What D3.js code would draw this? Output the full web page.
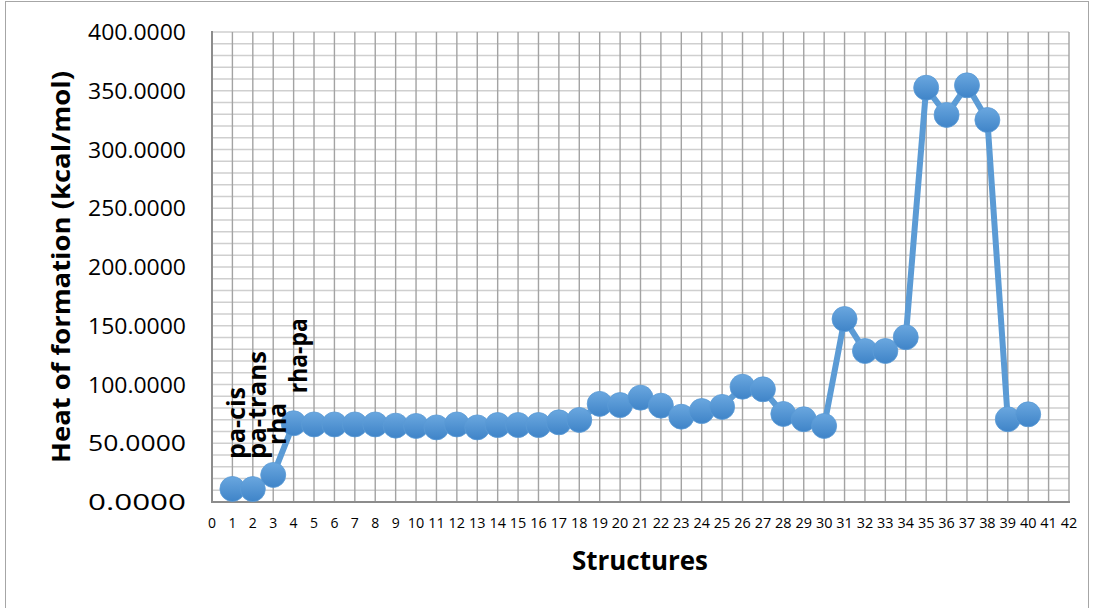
<!DOCTYPE html>
<html>
<head>
<meta charset="utf-8">
<script src="https://cdn.jsdelivr.net/npm/d3@7"></script>
<style>
  html, body { margin: 0; padding: 0; background: #fff; }
  svg { display: block; }
  text { font-family: "Open Sans", Lato, sans-serif; fill: #000; }
</style>
</head>
<body>
<svg id="chart" width="1094" height="608"></svg>
<script>
// ---- data ----
const structures = d3.range(1, 41);
const heatValues = [
  11.1, 11.0, 23.0, 67.0, 66.0, 66.0, 66.0, 66.0, 65.0, 64.7,
  63.5, 66.0, 63.5, 65.5, 65.5, 65.5, 67.8, 69.8, 83.5, 82.5,
  88.8, 82.0, 72.6, 77.4, 80.9, 98.1, 95.9, 74.9, 70.4, 64.7,
  155.7, 128.5, 128.5, 140.2, 352.6, 329.4, 354.6, 325.1, 70.4, 74.6
];
const pointLabels = ["pa-cis", "pa-trans", "rha", "rha-pa"];
const xTicks = d3.range(0, 43);
const yTicks = d3.range(0, 401, 50);
const yMinorTicks = d3.range(0, 401, 10);
const yTitle = "Heat of formation (kcal/mol)";
const xTitle = "Structures";

// ---- layout ----
const svg = d3.select("#chart");
const x = d3.scaleLinear().domain([0, 42]).range([212, 1069]);
const y = d3.scaleLinear().domain([0, 400]).range([502, 32]);

// outer border
svg.append("rect").attr("x", 5.5).attr("y", 1.5).attr("width", 1083).attr("height", 620)
  .attr("fill", "#fff").attr("stroke", "#a6a6a6").attr("stroke-width", 1);

const defs = svg.append("defs");
const grad = defs.append("linearGradient").attr("id", "mk").attr("x1", 0).attr("y1", 0).attr("x2", 0).attr("y2", 1);
grad.append("stop").attr("offset", "0%").attr("stop-color", "#6aa7df");
grad.append("stop").attr("offset", "100%").attr("stop-color", "#3f84c8");

// horizontal minor gridlines
svg.append("g").selectAll("line").data(yMinorTicks).join("line")
  .attr("x1", x(0)).attr("x2", x(42))
  .attr("y1", d => y(d)).attr("y2", d => y(d))
  .attr("stroke", "#cfcfcf").attr("stroke-width", 1.6);

// vertical gridlines
svg.append("g").selectAll("line").data(xTicks.filter(d => d > 0)).join("line")
  .attr("x1", d => x(d)).attr("x2", d => x(d))
  .attr("y1", y(400)).attr("y2", y(0))
  .attr("stroke", "#a3a3a3").attr("stroke-width", 1.4);

// axes lines
svg.append("line").attr("x1", x(0)).attr("x2", x(0)).attr("y1", y(400) - 1).attr("y2", y(0) + 1)
  .attr("stroke", "#8c8c8c").attr("stroke-width", 2);
svg.append("line").attr("x1", x(0) - 1).attr("x2", x(42) + 1).attr("y1", y(0)).attr("y2", y(0))
  .attr("stroke", "#8c8c8c").attr("stroke-width", 2);

// y tick labels
svg.append("g").selectAll("text").data(yTicks).join("text")
  .attr("x", 186).attr("y", d => y(d))
  .attr("text-anchor", "end").attr("dominant-baseline", "central")
  .attr("font-size", 21)
  .attr("textLength", 98).attr("lengthAdjust", "spacingAndGlyphs")
  .text(d => d3.format(".4f")(d));

// x tick labels
svg.append("g").selectAll("text").data(xTicks).join("text")
  .attr("x", d => x(d)).attr("y", 522)
  .attr("text-anchor", "middle").attr("dominant-baseline", "central")
  .attr("font-size", 14.5)
  .attr("textLength", d => d < 10 ? 8 : 16.5).attr("lengthAdjust", "spacingAndGlyphs")
  .text(d => d);

// axis titles
svg.append("text")
  .attr("transform", `translate(60,${(y(0) + y(400)) / 2}) rotate(-90)`)
  .attr("text-anchor", "middle").attr("dominant-baseline", "central")
  .attr("font-size", 25).attr("font-weight", "bold")
  .attr("textLength", 392).attr("lengthAdjust", "spacingAndGlyphs")
  .text(yTitle);

svg.append("text")
  .attr("x", 640).attr("y", 560)
  .attr("text-anchor", "middle").attr("dominant-baseline", "central")
  .attr("font-size", 26).attr("font-weight", "bold")
  .attr("textLength", 136).attr("lengthAdjust", "spacingAndGlyphs")
  .text(xTitle);

// series
const pts = structures.map((s, i) => ({ s, v: heatValues[i] }));
const line = d3.line().x(d => x(d.s)).y(d => y(d.v));
svg.append("path").datum(pts).attr("d", line)
  .attr("fill", "none").attr("stroke", "#5b9bd5").attr("stroke-width", 6)
  .attr("stroke-linejoin", "round");

svg.append("g").selectAll("circle").data(pts).join("circle")
  .attr("cx", d => x(d.s)).attr("cy", d => y(d.v)).attr("r", 12.5)
  .attr("fill", "url(#mk)").attr("stroke", "#5b9bd5").attr("stroke-width", 0.8);

// data labels (rotated)
const labelLengths = [72, 108, 42, 75];
svg.append("g").selectAll("text").data(pointLabels).join("text")
  .attr("transform", (d, i) => `translate(${x(pts[i].s) + 3},${y(pts[i].v) - 30}) rotate(-90)`)
  .attr("text-anchor", "start").attr("dominant-baseline", "central")
  .attr("font-size", 25).attr("font-weight", "bold")
  .attr("textLength", (d, i) => labelLengths[i]).attr("lengthAdjust", "spacingAndGlyphs")
  .text(d => d);
</script>
</body>
</html>
